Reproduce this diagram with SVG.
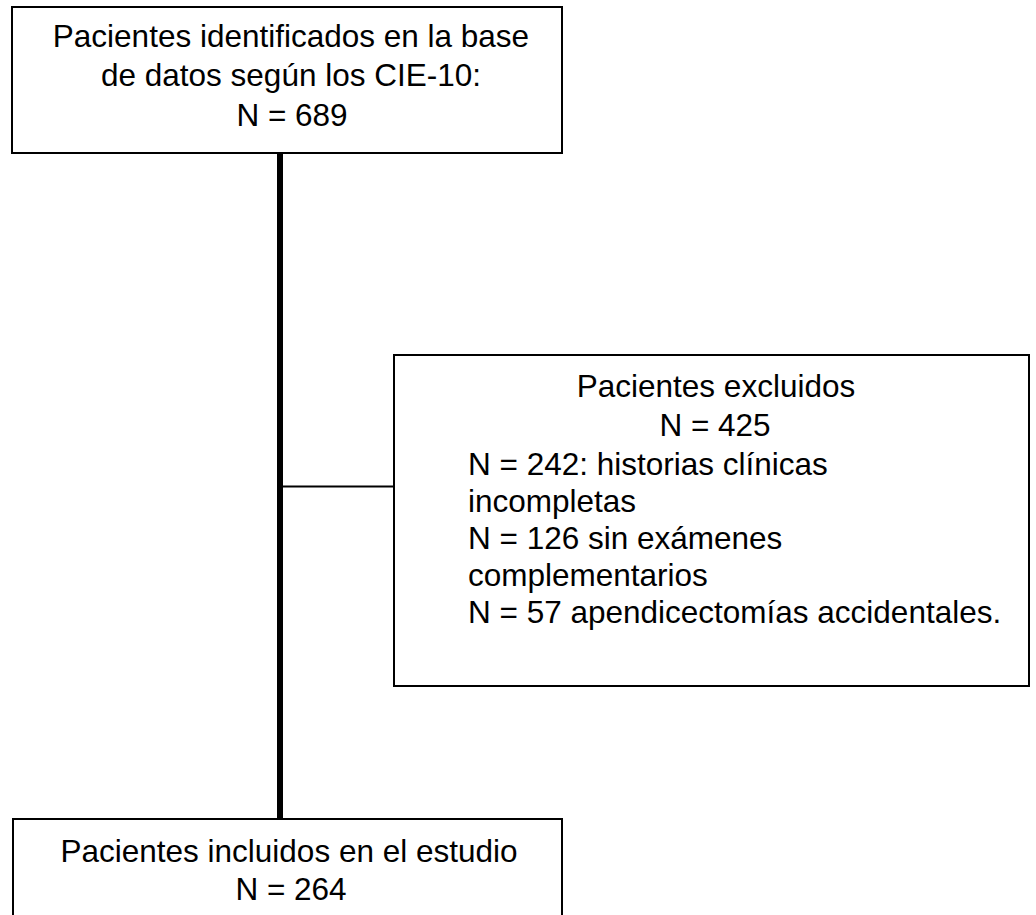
<svg xmlns="http://www.w3.org/2000/svg" width="1036" height="915" viewBox="0 0 1036 915">
<style>
.box{fill:#fff;stroke:#000;stroke-width:2}
.t{font-family:"Liberation Sans",Arial,sans-serif;font-size:31.5px;fill:#000}
.c{text-anchor:middle}
</style>
<rect width="1036" height="915" fill="#fff"/>
<g id="connectors">
<line x1="280" y1="153" x2="280" y2="819" stroke="#000" stroke-width="6"/>
<line x1="283" y1="486.5" x2="394" y2="486.5" stroke="#000" stroke-width="2"/>
</g>
<g id="node-identificados">
<rect class="box" x="12" y="7" width="550" height="146"/>
<text class="t c" x="291" y="47">Pacientes identificados en la base</text>
<text class="t c" x="291" y="86">de datos según los CIE-10:</text>
<text class="t c" x="292" y="126">N = 689</text>
</g>
<g id="node-excluidos">
<rect class="box" x="394" y="355" width="635" height="331"/>
<text class="t c" x="716" y="397">Pacientes excluidos</text>
<text class="t c" x="715" y="436">N = 425</text>
<text class="t" x="468" y="475">N = 242: historias clínicas</text>
<text class="t" x="468" y="512">incompletas</text>
<text class="t" x="468" y="549">N = 126 sin exámenes</text>
<text class="t" x="468" y="586">complementarios</text>
<text class="t" x="468" y="623">N = 57 apendicectomías accidentales.</text>
</g>
<g id="node-incluidos">
<rect class="box" x="13" y="819" width="549" height="120"/>
<text class="t c" x="289" y="862">Pacientes incluidos en el estudio</text>
<text class="t c" x="291" y="900">N = 264</text>
</g>
</svg>
